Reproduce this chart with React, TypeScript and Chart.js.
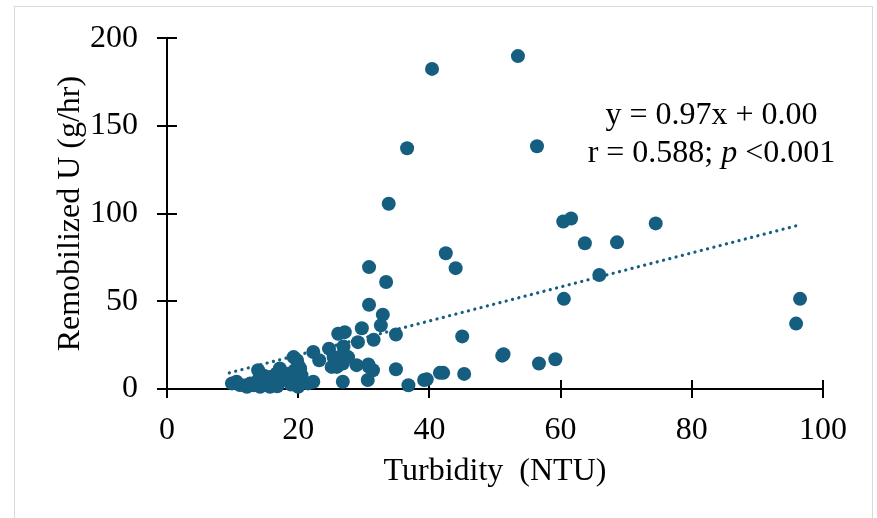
import React, { useEffect, useRef } from "react";
import { Chart, registerables } from "chart.js";

Chart.register(...registerables);

// Turbidity (NTU) of each sample
const turbidity = [
  40.4, 53.5, 36.6, 56.4, 33.8, 60.4, 61.6, 74.5, 63.7, 68.6,
  42.5, 44.0, 65.9, 60.5, 96.5, 95.9, 30.8, 33.4, 30.8, 32.9,
  32.6, 34.9, 45.0, 51.3, 51.1, 56.7, 59.2, 45.3, 42.1, 41.6,
  39.6, 39.2, 36.8, 34.9, 26.8, 30.6, 29.7, 31.5, 29.1, 27.1,
  26.1, 26.9, 31.4, 30.7, 28.9, 24.7, 22.3, 23.2, 25.4, 26.9,
  26.8, 25.1, 25.9, 27.6, 30.8, 22.3, 21.5, 20.0, 19.8, 19.3,
  20.3, 20.5, 19.5, 20.0, 19.5, 18.7, 20.3, 17.2, 17.7, 16.7,
  15.7, 13.9, 13.9, 12.7, 11.1, 9.9, 12.2, 14.2, 15.7, 17.0,
  18.2, 16.2, 10.6, 26.9, 15.0, 16.8, 18.9, 14.8, 19.0, 11.8,
  13.2, 17.5,
];

// Remobilized U (g/hr) of each sample
const remobilizedU = [
  182.5, 189.8, 137.3, 138.4, 105.6, 95.5, 97.2, 94.4, 83.1, 83.6,
  77.4, 68.9, 65.0, 51.4, 51.4, 37.3, 69.5, 61.0, 48.0, 42.4,
  36.3, 31.1, 30.0, 19.8, 19.0, 14.5, 17.0, 8.6, 9.2, 9.2,
  5.5, 5.1, 2.1, 11.3, 4.1, 5.1, 34.6, 28.1, 26.7, 32.4,
  31.5, 24.3, 10.7, 14.0, 13.6, 23.0, 21.1, 16.4, 18.2, 20.1,
  14.5, 12.6, 12.6, 18.2, 12.6, 4.1, 3.2, 1.3, 16.4, 18.2,
  11.7, 7.9, 7.9, 13.6, 10.7, 8.8, 6.9, 11.7, 8.8, 8.8,
  6.9, 10.7, 5.1, 3.2, 2.3, 3.2, 1.3, 1.3, 1.3, 3.2,
  5.1, 5.1, 4.1, 17.5, 3.0, 1.5, 2.5, 7.5, 4.0, 2.0,
  2.2, 6.0,
];

const xTicks = [0, 20, 40, 60, 80, 100];
const yTicks = [0, 50, 100, 150, 200];

// Linear fit y = slope * x + intercept, drawn over the sampled turbidity range
const slope = 0.97;
const intercept = 0.0;
const fitRange = [9.5, 96.5];

const equationLine = "y = 0.97x + 0.00";
const statsLine = ["r = 0.588; ", "p", " <0.001"];
const labelAnchor = { x: 83, y1: 156, y2: 134 };

const pointColor = "#165E80";
const fontFamily = "'Liberation Serif', 'Times New Roman', serif";
const fontSize = 32;

const innerTicks = {
  id: "innerTicks",
  beforeDatasetsDraw(chart: any) {
    const { ctx, chartArea, scales } = chart;
    ctx.save();
    ctx.strokeStyle = "#000";
    ctx.lineWidth = 2;
    ctx.beginPath();
    for (const v of xTicks) {
      const px = Math.round(scales.x.getPixelForValue(v));
      ctx.moveTo(px, chartArea.bottom);
      ctx.lineTo(px, chartArea.bottom - 9);
    }
    for (const v of yTicks) {
      const py = Math.round(scales.y.getPixelForValue(v));
      ctx.moveTo(chartArea.left, py);
      ctx.lineTo(chartArea.left + 10, py);
    }
    ctx.stroke();
    ctx.restore();
  },
};

const fitLabel = {
  id: "fitLabel",
  afterDraw(chart: any) {
    const { ctx, scales } = chart;
    const cx = scales.x.getPixelForValue(labelAnchor.x);
    const y1 = scales.y.getPixelForValue(labelAnchor.y1);
    const y2 = scales.y.getPixelForValue(labelAnchor.y2);
    ctx.save();
    ctx.fillStyle = "#000";
    ctx.textBaseline = "middle";
    ctx.font = `${fontSize}px ${fontFamily}`;
    ctx.textAlign = "center";
    ctx.fillText(equationLine, cx, y1);

    const fonts = [
      `${fontSize}px ${fontFamily}`,
      `italic ${fontSize}px ${fontFamily}`,
      `${fontSize}px ${fontFamily}`,
    ];
    const widths = statsLine.map((t, i) => {
      ctx.font = fonts[i];
      return ctx.measureText(t).width;
    });
    const total = widths.reduce((a, b) => a + b, 0);
    let x = cx - total / 2;
    ctx.textAlign = "left";
    statsLine.forEach((t, i) => {
      ctx.font = fonts[i];
      ctx.fillText(t, x, y2);
      x += widths[i];
    });
    ctx.restore();
  },
};

export default function App() {
  const canvasRef = useRef<HTMLCanvasElement | null>(null);

  useEffect(() => {
    const canvas = canvasRef.current;
    if (!canvas) return;

    const points = turbidity.map((x, i) => ({ x, y: remobilizedU[i] }));
    const fitPoints = fitRange.map((x) => ({ x, y: slope * x + intercept }));

    const tickFont = { family: fontFamily, size: fontSize };

    const chart = new Chart(canvas, {
      type: "scatter",
      data: {
        datasets: [
          {
            label: "Remobilized U",
            data: points,
            backgroundColor: pointColor,
            borderWidth: 0,
            pointRadius: 7,
            pointHoverRadius: 7,
            clip: false as any,
            order: 0,
          },
          {
            label: "Fit",
            data: fitPoints,
            showLine: true,
            borderColor: pointColor,
            borderWidth: 3.2,
            borderDash: [0.1, 6.4],
            borderCapStyle: "round",
            pointRadius: 0,
            fill: false,
            order: 1,
          },
        ],
      },
      options: {
        responsive: false,
        animation: false,
        devicePixelRatio: 1,
        layout: { padding: { left: 0, right: 54, top: 35, bottom: 0 } },
        plugins: {
          legend: { display: false },
          tooltip: { enabled: false },
        },
        scales: {
          x: {
            type: "linear",
            min: 0,
            max: 100,
            afterBuildTicks: (s: any) => {
              s.ticks = xTicks.map((value) => ({ value }));
            },
            afterFit: (s: any) => {
              s.height = 129;
            },
            border: { display: true, color: "#000", width: 2 },
            grid: {
              drawOnChartArea: false,
              drawTicks: true,
              tickLength: 9,
              color: "#000",
              lineWidth: 2,
            },
            ticks: {
              color: "#000",
              font: tickFont,
              padding: 13,
              maxRotation: 0,
            },
            title: {
              display: true,
              text: "Turbidity  (NTU)",
              color: "#000",
              font: tickFont,
              padding: { top: 0, bottom: 27 },
            },
          },
          y: {
            type: "linear",
            min: 0,
            max: 200,
            afterBuildTicks: (s: any) => {
              s.ticks = yTicks.map((value) => ({ value }));
            },
            afterFit: (s: any) => {
              s.width = 167;
            },
            border: { display: true, color: "#000", width: 2 },
            grid: {
              drawOnChartArea: false,
              drawTicks: true,
              tickLength: 10,
              color: "#000",
              lineWidth: 2,
            },
            ticks: {
              color: "#000",
              font: tickFont,
              padding: 19,
            },
            title: {
              display: true,
              text: "Remobilized U (g/hr)",
              color: "#000",
              font: tickFont,
              padding: { top: 51, bottom: 0 },
            },
          },
        },
      },
      plugins: [innerTicks, fitLabel],
    });

    return () => chart.destroy();
  }, []);

  return (
    <div
      style={{
        position: "fixed",
        left: 0,
        top: 0,
        width: 877,
        height: 518,
        background: "#fff",
        overflow: "hidden",
      }}
    >
      <div
        style={{
          position: "absolute",
          left: 14,
          top: 6,
          width: 859,
          height: 530,
          border: "1px solid #d9d9d9",
          boxSizing: "border-box",
        }}
      />
      <canvas
        ref={canvasRef}
        width={877}
        height={518}
        style={{ position: "absolute", left: 0, top: 0 }}
      />
    </div>
  );
}
